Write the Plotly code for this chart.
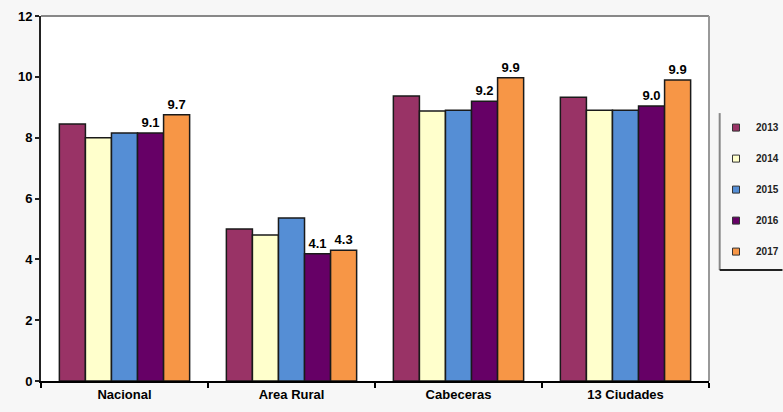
import plotly.graph_objects as go

categories = ["Nacional", "Area Rural", "Cabeceras", "13 Ciudades"]
years = ["2013", "2014", "2015", "2016", "2017"]
v2013 = [8.45, 5.0, 9.37, 9.33]
v2014 = [8.0, 4.8, 8.88, 8.9]
v2015 = [8.15, 5.36, 8.9, 8.9]
v2016 = [8.15, 4.18, 9.2, 9.04]
v2017 = [8.75, 4.3, 9.97, 9.9]
lab2016 = ["9.1", "4.1", "9.2", "9.0"]
lab2017 = ["9.7", "4.3", "9.9", "9.9"]

colors = ["#993366", "#FFFFCC", "#558ED5", "#660066", "#F79646"]
series = [v2013, v2014, v2015, v2016, v2017]
labels = [None, None, None, lab2016, lab2017]

font = dict(family="Liberation Sans, Arial", size=13, color="black", weight="bold")

fig = go.Figure()
for yr, vals, col, lab in zip(years, series, colors, labels):
    fig.add_trace(go.Bar(
        x=categories, y=vals, name=yr, showlegend=False,
        marker=dict(color=col, line=dict(color="#1a1a1a", width=1.5)),
        text=lab, textposition="outside" if lab else "none",
        textfont=dict(family="Liberation Sans, Arial", size=13, color="black", weight="bold"),
        cliponaxis=False,
    ))

# small square legend keys like the original
for yr, col in zip(years, colors):
    fig.add_trace(go.Scatter(
        x=[None], y=[None], mode="markers", name=yr, legendgroup=yr,
        marker=dict(symbol="square", size=7, color=col, line=dict(color="#333", width=1)),
    ))

fig.update_layout(
    width=783, height=412,
    margin=dict(l=41, r=74, t=16, b=31, autoexpand=False),
    paper_bgcolor="#f7f7f7", plot_bgcolor="white",
    barmode="group", bargap=0.22, bargroupgap=0,
    font=font,
    showlegend=True,
    legend=dict(x=1.0105, y=0.734, xanchor="left", yanchor="top",
                bgcolor="rgba(0,0,0,0)", tracegroupgap=12, itemwidth=30,
                font=dict(family="Liberation Sans, Arial", size=10, color="#222", weight="bold")),
    xaxis=dict(showline=True, linecolor="black", linewidth=2, ticks="outside",
               tickson="boundaries", ticklen=5, tickwidth=2, tickcolor="black",
               tickfont=font, showgrid=False, automargin=False),
    yaxis=dict(range=[0, 12], dtick=2, showline=True, linecolor="#222", linewidth=2,
               ticks="outside", ticklen=4, tickwidth=2, tickcolor="#222",
               tickfont=font, showgrid=False, zeroline=False, automargin=False),
    shapes=[
        dict(type="line", xref="paper", yref="paper", x0=0, x1=1, y0=1, y1=1,
             line=dict(color="#888", width=2)),
        dict(type="line", xref="paper", yref="paper", x0=1, x1=1, y0=0, y1=1,
             line=dict(color="#999", width=2)),
        dict(type="line", xref="paper", yref="paper", x0=1.016, x1=1.016, y0=0.304, y1=0.734,
             line=dict(color="#888", width=2)),
        dict(type="line", xref="paper", yref="paper", x0=1.016, x1=1.11, y0=0.304, y1=0.304,
             line=dict(color="#222", width=2)),
    ],
)

# drop the default page margin so the figure sits at the window's corner
fig.write_html("out.html", config={"displayModeBar": False},
               post_script="document.body.style.margin='0';")
